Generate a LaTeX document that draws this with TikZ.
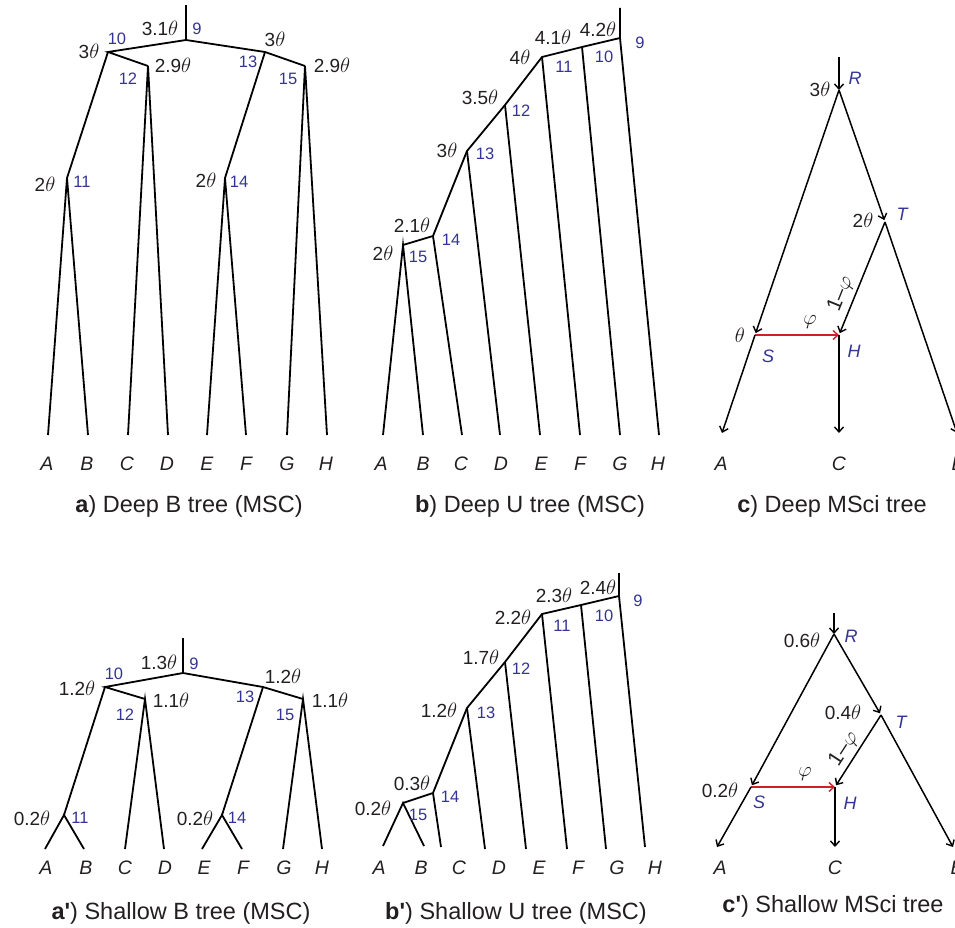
\documentclass[tikz,border=0pt]{standalone}
\usepackage{fontspec}
\setmainfont{Liberation Sans}[Ligatures=TeXOff]
\usetikzlibrary{arrows.meta}
\definecolor{txt}{RGB}{35,31,32}
\definecolor{nblue}{RGB}{52,52,150}
\definecolor{hred}{RGB}{205,32,40}
\newcommand\mytheta{{\fontsize{21.5}{22}\selectfont$\theta$}}
\newcommand\myphi{{\fontsize{22}{22}\selectfont$\varphi$}}
\begin{document}
\begin{tikzpicture}[x=1pt,y=-1pt,
  edge/.style={line width=1.8pt,draw=black,line join=miter},
  arr/.style={line width=1.5pt,draw=black,-{Straight Barb[length=5pt,width=9pt,line width=1.4pt]}},
  harr/.style={arr,draw=hred},
  lab/.style={anchor=base,font=\fontsize{19}{21}\selectfont,text=txt,inner sep=0pt},
  num/.style={anchor=base,font=\fontsize{16.5}{18}\selectfont,text=nblue,inner sep=0pt},
  leaf/.style={anchor=base,font=\fontsize{19.5}{21}\selectfont\itshape,text=txt,inner sep=0pt},
  vtx/.style={anchor=base,font=\fontsize{18}{20}\selectfont\itshape,text=nblue,inner sep=0pt},
  rot/.style={anchor=center,font=\fontsize{21}{22}\selectfont,text=txt,inner sep=0pt},
  capt/.style={anchor=base,font=\fontsize{23.5}{26}\selectfont,text=txt,inner sep=0pt}]
\useasboundingbox (0,0) rectangle (955,928);

% ---------------- panel a ----------------
\coordinate (a0) at (186,5);
\coordinate (a9) at (186,40);
\coordinate (a10) at (108,52);
\coordinate (a12) at (148,66);
\coordinate (a13) at (265,52);
\coordinate (a15) at (305,66);
\coordinate (a11) at (67,178);
\coordinate (a14) at (225,178);
\coordinate (aA) at (48,435);
\coordinate (aB) at (88,435);
\coordinate (aC) at (128,435);
\coordinate (aD) at (168,435);
\coordinate (aE) at (207,435);
\coordinate (aF) at (246,435);
\coordinate (aG) at (287,435);
\coordinate (aH) at (327,435);
\draw[edge] (a0)--(a9);
\draw[edge] (a12)--(a10)--(a9)--(a13)--(a15);
\draw[edge] (aA)--(a11)--(aB);
\draw[edge] (a10)--(a11);
\draw[edge] (aC)--(a12)--(aD);
\draw[edge] (a13)--(a14);
\draw[edge] (aE)--(a14)--(aF);
\draw[edge] (aG)--(a15)--(aH);
\node[lab] (ta9) at (160,36) {3.1\mytheta};
\node[num] (na9) at (197,35) {9};
\node[num] (na10) at (117,45) {10};
\node[lab] (ta10) at (89,59) {3\mytheta};
\node[num] (na12) at (128,85) {12};
\node[lab] (ta12) at (173,73) {2.9\mytheta};
\node[num] (na13) at (248,68) {13};
\node[lab] (ta13) at (275,47) {3\mytheta};
\node[num] (na15) at (288,85) {15};
\node[lab] (ta15) at (332,73) {2.9\mytheta};
\node[lab] (ta11) at (45,192) {2\mytheta};
\node[num] (na11) at (82,188) {11};
\node[lab] (ta14) at (206,188) {2\mytheta};
\node[num] (na14) at (239,188) {14};
\node[leaf] (laA) at (47,470) {A};
\node[leaf] (laB) at (87,470) {B};
\node[leaf] (laC) at (127,470) {C};
\node[leaf] (laD) at (167,470) {D};
\node[leaf] (laE) at (207,470) {E};
\node[leaf] (laF) at (246,470) {F};
\node[leaf] (laG) at (287,470) {G};
\node[leaf] (laH) at (326,470) {H};
\node[capt] (capa) at (189,512) {\textbf{a}) Deep B tree (MSC)};

% ---------------- panel b ----------------
\coordinate (b0) at (620,8);
\coordinate (b9) at (620,38);
\coordinate (b10) at (582,47);
\coordinate (b11) at (542,57);
\coordinate (b12) at (505,105);
\coordinate (b13) at (467,151);
\coordinate (b14) at (433,236);
\coordinate (b15) at (403,245);
\coordinate (bA) at (383,435);
\coordinate (bB) at (423,435);
\coordinate (bC) at (462,435);
\coordinate (bD) at (500,435);
\coordinate (bE) at (540,435);
\coordinate (bF) at (580,435);
\coordinate (bG) at (620,435);
\coordinate (bH) at (659,435);
\draw[edge] (b0)--(b9)--(bH);
\draw[edge] (b9)--(b10)--(b11)--(b12)--(b13)--(b14)--(b15);
\draw[edge] (bA)--(b15)--(bB);
\draw[edge] (b14)--(bC);
\draw[edge] (b13)--(bD);
\draw[edge] (b12)--(bE);
\draw[edge] (b11)--(bF);
\draw[edge] (b10)--(bG);
\node[lab] (tb15) at (383,260) {2\mytheta};
\node[num] (nb15) at (418,262) {15};
\node[lab] (tb14) at (412,232) {2.1\mytheta};
\node[num] (nb14) at (451,245) {14};
\node[lab] (tb13) at (447,158) {3\mytheta};
\node[num] (nb13) at (485,160) {13};
\node[lab] (tb12) at (480,105) {3.5\mytheta};
\node[num] (nb12) at (521,117) {12};
\node[lab] (tb11) at (520,65) {4\mytheta};
\node[num] (nb11) at (564,73) {11};
\node[lab] (tb11b) at (553,45) {4.1\mytheta};
\node[lab] (tb10) at (598,37) {4.2\mytheta};
\node[num] (nb10) at (604,63) {10};
\node[num] (nb9) at (640,49) {9};
\node[leaf] (lbA) at (381,470) {A};
\node[leaf] (lbB) at (423,470) {B};
\node[leaf] (lbC) at (461,470) {C};
\node[leaf] (lbD) at (501,470) {D};
\node[leaf] (lbE) at (541,470) {E};
\node[leaf] (lbF) at (580,470) {F};
\node[leaf] (lbG) at (620,470) {G};
\node[leaf] (lbH) at (658,470) {H};
\node[capt] (capb) at (530,512) {\textbf{b}) Deep U tree (MSC)};

% ---------------- panel c ----------------
\coordinate (cR0) at (839,57);
\coordinate (cR) at (839,90);
\coordinate (cT) at (885,222);
\coordinate (cS) at (755,335);
\coordinate (cH) at (839,335);
\coordinate (cA) at (722,433);
\coordinate (cC) at (839,433);
\coordinate (cB) at (957,433);
\draw[arr] (cR0)--(cR);
\draw[arr,shorten >=2pt] (cR)--(cS);
\draw[arr,shorten >=2pt] (cR)--(cT);
\draw[arr,shorten >=2pt] (cT)--(cH);
\draw[harr] (cS)--(cH);
\draw[arr] (cS)--(cA);
\draw[arr] (cH)--(cC);
\draw[arr] (cT)--(cB);
\node[vtx] (vcR) at (855,85) {R};
\node[lab] (tcR) at (820,97) {3\mytheta};
\node[vtx] (vcT) at (902,220) {T};
\node[lab] (tcT) at (863,227) {2\mytheta};
\node[lab] (tcS) at (740,342) {\mytheta};
\node[vtx] (vcS) at (768,362) {S};
\node[vtx] (vcH) at (854,357) {H};
\node[rot] (phc) at (810,322) {\myphi};
\node[rot,rotate=68] (ophc) at (841,294) {1\textendash\myphi};
\node[leaf] (lcA) at (721,470) {A};
\node[leaf] (lcC) at (839,470) {C};
\node[leaf] (lcB) at (958,470) {B};
\node[capt] (capc) at (832,512) {\textbf{c}) Deep MSci tree};

% ---------------- panel a' ----------------
\coordinate (p0) at (183,638);
\coordinate (p9) at (183,673);
\coordinate (p10) at (105,687);
\coordinate (p12) at (145,699);
\coordinate (p13) at (263,687);
\coordinate (p15) at (303,699);
\coordinate (p11) at (64,815);
\coordinate (p14) at (222,815);
\coordinate (pA) at (45,849);
\coordinate (pB) at (84,849);
\coordinate (pC) at (125,849);
\coordinate (pD) at (164,849);
\coordinate (pE) at (202,849);
\coordinate (pF) at (242,849);
\coordinate (pG) at (283,849);
\coordinate (pH) at (322,849);
\draw[edge] (p0)--(p9);
\draw[edge] (p12)--(p10)--(p9)--(p13)--(p15);
\draw[edge] (pA)--(p11)--(pB);
\draw[edge] (p10)--(p11);
\draw[edge] (pC)--(p12)--(pD);
\draw[edge] (p13)--(p14);
\draw[edge] (pE)--(p14)--(pF);
\draw[edge] (pG)--(p15)--(pH);
\node[lab] (tp9) at (159,669) {1.3\mytheta};
\node[num] (np9) at (194,669) {9};
\node[num] (np10) at (114,679) {10};
\node[lab] (tp10) at (77,695) {1.2\mytheta};
\node[num] (np12) at (125,720) {12};
\node[lab] (tp12) at (171,707) {1.1\mytheta};
\node[num] (np13) at (245,702) {13};
\node[lab] (tp13) at (283,683) {1.2\mytheta};
\node[num] (np15) at (285,720) {15};
\node[lab] (tp15) at (330,707) {1.1\mytheta};
\node[lab] (tp11) at (32,825) {0.2\mytheta};
\node[num] (np11) at (80,823) {11};
\node[lab] (tp14) at (195,825) {0.2\mytheta};
\node[num] (np14) at (237,823) {14};
\node[leaf] (lpA) at (46,874) {A};
\node[leaf] (lpB) at (86,874) {B};
\node[leaf] (lpC) at (125,874) {C};
\node[leaf] (lpD) at (165,874) {D};
\node[leaf] (lpE) at (204,874) {E};
\node[leaf] (lpF) at (243,874) {F};
\node[leaf] (lpG) at (284,874) {G};
\node[leaf] (lpH) at (322,874) {H};
\node[capt] (capp) at (181,919) {\textbf{a'}) Shallow B tree (MSC)};

% ---------------- panel b' ----------------
\coordinate (q0) at (619,573);
\coordinate (q9) at (619,596);
\coordinate (q10) at (581,605);
\coordinate (q11) at (542,614);
\coordinate (q12) at (505,662);
\coordinate (q13) at (467,708);
\coordinate (q14) at (433,793);
\coordinate (q15) at (403,803);
\coordinate (qA) at (383,846);
\coordinate (qB) at (424,846);
\coordinate (qC) at (441,847);
\coordinate (qD) at (485,849);
\coordinate (qE) at (526,849);
\coordinate (qF) at (567,849);
\coordinate (qG) at (606,849);
\coordinate (qH) at (645,847);
\draw[edge] (q0)--(q9)--(qH);
\draw[edge] (q9)--(q10)--(q11)--(q12)--(q13)--(q14)--(q15);
\draw[edge] (qA)--(q15)--(qB);
\draw[edge] (q14)--(qC);
\draw[edge] (q13)--(qD);
\draw[edge] (q12)--(qE);
\draw[edge] (q11)--(qF);
\draw[edge] (q10)--(qG);
\node[lab] (tq15) at (373,815) {0.2\mytheta};
\node[num] (nq15) at (418,820) {15};
\node[lab] (tq14) at (412,790) {0.3\mytheta};
\node[num] (nq14) at (450,802) {14};
\node[lab] (tq13) at (439,717) {1.2\mytheta};
\node[num] (nq13) at (486,718) {13};
\node[lab] (tq12) at (481,664) {1.7\mytheta};
\node[num] (nq12) at (521,674) {12};
\node[lab] (tq11) at (513,624) {2.2\mytheta};
\node[num] (nq11) at (562,631) {11};
\node[lab] (tq11b) at (554,602) {2.3\mytheta};
\node[lab] (tq10) at (598,594) {2.4\mytheta};
\node[num] (nq10) at (604,621) {10};
\node[num] (nq9) at (638,606) {9};
\node[leaf] (lqA) at (379,874) {A};
\node[leaf] (lqB) at (421,874) {B};
\node[leaf] (lqC) at (459,874) {C};
\node[leaf] (lqD) at (499,874) {D};
\node[leaf] (lqE) at (539,874) {E};
\node[leaf] (lqF) at (578,874) {F};
\node[leaf] (lqG) at (617,874) {G};
\node[leaf] (lqH) at (655,874) {H};
\node[capt] (capq) at (516,919) {\textbf{b'}) Shallow U tree (MSC)};

% ---------------- panel c' ----------------
\coordinate (dR0) at (834,613);
\coordinate (dR) at (834,634);
\coordinate (dT) at (881,715);
\coordinate (dS) at (751,787);
\coordinate (dH) at (835,787);
\coordinate (dA) at (717,847);
\coordinate (dC) at (835,847);
\coordinate (dB) at (953,847);
\draw[arr] (dR0)--(dR);
\draw[arr,shorten >=2pt] (dR)--(dS);
\draw[arr,shorten >=2pt] (dR)--(dT);
\draw[arr,shorten >=2pt] (dT)--(dH);
\draw[harr] (dS)--(dH);
\draw[arr] (dS)--(dA);
\draw[arr] (dH)--(dC);
\draw[arr] (dT)--(dB);
\node[vtx] (vdR) at (851,642) {R};
\node[lab] (tdR) at (802,647) {0.6\mytheta};
\node[vtx] (vdT) at (901,728) {T};
\node[lab] (tdT) at (843,719) {0.4\mytheta};
\node[lab] (tdS) at (720,797) {0.2\mytheta};
\node[vtx] (vdS) at (759,808) {S};
\node[vtx] (vdH) at (850,809) {H};
\node[rot] (phd) at (805,774) {\myphi};
\node[rot,rotate=57] (ophd) at (844,749) {1\textendash\myphi};
\node[leaf] (ldA) at (720,874) {A};
\node[leaf] (ldC) at (835,874) {C};
\node[leaf] (ldB) at (957,874) {B};
\node[capt] (capd) at (833,912) {\textbf{c'}) Shallow MSci tree};
\end{tikzpicture}
\end{document}
